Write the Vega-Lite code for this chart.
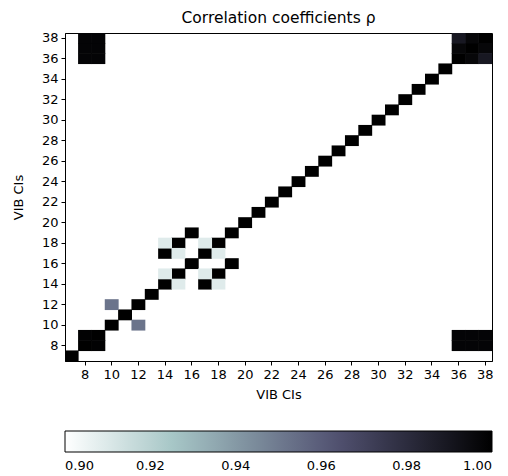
{
  "$schema": "https://vega.github.io/schema/vega-lite/v6.json",
  "autosize": "none",
  "width": 427,
  "height": 328,
  "padding": {"left": 65, "top": 33, "right": 16, "bottom": 115},
  "background": "white",
  "title": {"text": "Correlation coefficients ρ", "font": "DejaVu Sans", "fontSize": 15.5, "fontWeight": "normal", "color": "black", "offset": 5},
  "config": {
    "view": {"stroke": "black", "strokeWidth": 1},
    "axis": {"labelFont": "DejaVu Sans", "labelFontSize": 13, "labelColor": "black", "titleFont": "DejaVu Sans", "titleFontSize": 13, "titleFontWeight": "normal", "titleColor": "black", "tickColor": "black", "domainColor": "black", "tickSize": 4, "labelPadding": 3, "grid": false, "labelAngle": 0}
  },
  "data": {"values": [
    {"x":7,"y":7,"rho":1},{"x":8,"y":8,"rho":1},{"x":9,"y":9,"rho":1},{"x":10,"y":10,"rho":1},{"x":11,"y":11,"rho":1},{"x":12,"y":12,"rho":1},{"x":13,"y":13,"rho":1},{"x":14,"y":14,"rho":1},{"x":15,"y":15,"rho":1},{"x":16,"y":16,"rho":1},{"x":17,"y":17,"rho":1},{"x":18,"y":18,"rho":1},{"x":19,"y":19,"rho":1},{"x":20,"y":20,"rho":1},{"x":21,"y":21,"rho":1},{"x":22,"y":22,"rho":1},{"x":23,"y":23,"rho":1},{"x":24,"y":24,"rho":1},{"x":25,"y":25,"rho":1},{"x":26,"y":26,"rho":1},{"x":27,"y":27,"rho":1},{"x":28,"y":28,"rho":1},{"x":29,"y":29,"rho":1},{"x":30,"y":30,"rho":1},{"x":31,"y":31,"rho":1},{"x":32,"y":32,"rho":1},{"x":33,"y":33,"rho":1},{"x":34,"y":34,"rho":1},{"x":35,"y":35,"rho":1},{"x":36,"y":36,"rho":1},{"x":37,"y":37,"rho":1},{"x":38,"y":38,"rho":1},
    {"x":8,"y":9,"rho":0.999},{"x":9,"y":8,"rho":0.999},
    {"x":8,"y":36,"rho":0.998},{"x":8,"y":37,"rho":0.998},{"x":8,"y":38,"rho":0.998},{"x":9,"y":36,"rho":0.998},{"x":9,"y":37,"rho":0.998},{"x":9,"y":38,"rho":0.998},
    {"x":36,"y":8,"rho":0.998},{"x":37,"y":8,"rho":0.998},{"x":38,"y":8,"rho":0.998},{"x":36,"y":9,"rho":0.998},{"x":37,"y":9,"rho":0.998},{"x":38,"y":9,"rho":0.998},
    {"x":36,"y":37,"rho":0.997},{"x":37,"y":36,"rho":0.997},{"x":37,"y":38,"rho":0.997},{"x":38,"y":37,"rho":0.997},{"x":36,"y":38,"rho":0.989},{"x":38,"y":36,"rho":0.989},
    {"x":16,"y":19,"rho":1},{"x":19,"y":16,"rho":1},{"x":15,"y":18,"rho":1},{"x":18,"y":15,"rho":1},{"x":14,"y":17,"rho":1},{"x":17,"y":14,"rho":1},
    {"x":14,"y":18,"rho":0.909},{"x":18,"y":14,"rho":0.909},{"x":17,"y":18,"rho":0.909},{"x":18,"y":17,"rho":0.909},{"x":15,"y":17,"rho":0.909},{"x":17,"y":15,"rho":0.909},{"x":14,"y":15,"rho":0.909},{"x":15,"y":14,"rho":0.909},
    {"x":10,"y":12,"rho":0.952},{"x":12,"y":10,"rho":0.952}
  ]},
  "mark": {"type": "rect", "width": {"band": 1.04}, "height": {"band": 1.06}, "clip": true},
  "encoding": {
    "x": {"field": "x", "type": "ordinal", "title": "VIB CIs",
      "scale": {"domain": [7,8,9,10,11,12,13,14,15,16,17,18,19,20,21,22,23,24,25,26,27,28,29,30,31,32,33,34,35,36,37,38], "paddingInner": 0, "paddingOuter": 0},
      "axis": {"values": [8,10,12,14,16,18,20,22,24,26,28,30,32,34,36,38], "titlePadding": 7}},
    "y": {"field": "y", "type": "ordinal", "title": "VIB CIs",
      "scale": {"domain": [38,37,36,35,34,33,32,31,30,29,28,27,26,25,24,23,22,21,20,19,18,17,16,15,14,13,12,11,10,9,8,7], "paddingInner": 0, "paddingOuter": 0},
      "axis": {"values": [8,10,12,14,16,18,20,22,24,26,28,30,32,34,36,38], "titlePadding": 16}},
    "color": {"field": "rho", "type": "quantitative",
      "scale": {"domain": [0.9, 0.925397, 0.963492, 1.0], "range": ["#ffffff", "#a6c6c6", "#515171", "#000000"], "interpolate": "rgb", "clamp": true},
      "legend": {"orient": "none", "legendX": 0, "legendY": 398, "direction": "horizontal", "gradientLength": 427, "gradientThickness": 21, "gradientStrokeColor": "black", "gradientStrokeWidth": 1, "title": null, "values": [0.9, 0.92, 0.94, 0.96, 0.98, 1.0], "format": ".2f", "labelFont": "DejaVu Sans", "labelFontSize": 13, "labelColor": "black", "labelAlign": "center", "labelOffset": 8, "padding": 0, "labelOverlap": false}
    }
  }
}
